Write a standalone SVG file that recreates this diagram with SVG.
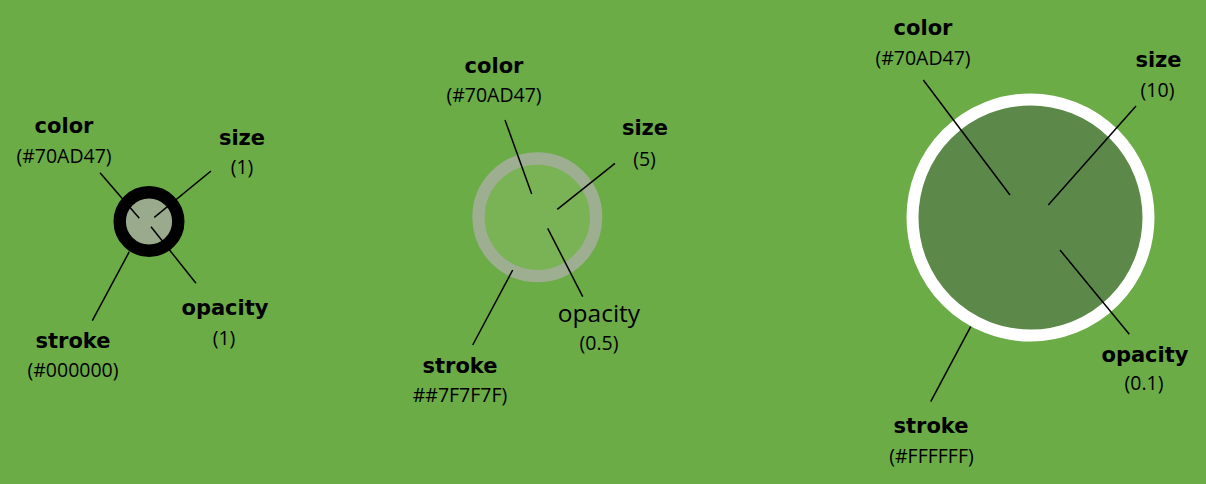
<svg xmlns="http://www.w3.org/2000/svg" width="1206" height="484" viewBox="0 0 1206 484">
<style>
.t{font-family:"DejaVu Sans",Verdana,sans-serif;font-weight:bold;font-size:21px;fill:#000;text-anchor:middle}
.v{font-family:"Open Sans","DejaVu Sans",sans-serif;font-size:19.5px;fill:#000;text-anchor:middle}
.tr{font-family:"Open Sans","DejaVu Sans",sans-serif;font-size:24.5px;fill:#000;text-anchor:middle}
.ln{stroke:#000;stroke-width:1.5;fill:none}
</style>
<rect width="1206" height="484" fill="#6BAC47"/>
<g id="node-size1">
<circle cx="149" cy="221.5" r="29.3" fill="#9AAA8C" stroke="#000" stroke-width="12.4"/>
<text class="t" x="64" y="133">color</text>
<text class="v" x="64" y="163">(#70AD47)</text>
<text class="t" x="242" y="145">size</text>
<text class="v" x="242" y="174">(1)</text>
<text class="t" x="225" y="315">opacity</text>
<text class="v" x="224" y="345">(1)</text>
<text class="t" x="73" y="348">stroke</text>
<text class="v" x="73" y="377">(#000000)</text>
</g>
<g id="node-size5">
<circle cx="537.3" cy="217.3" r="58.8" fill="#7AB256" stroke="#9EAE90" stroke-width="12.4"/>
<text class="t" x="494" y="73">color</text>
<text class="v" x="494" y="102">(#70AD47)</text>
<text class="t" x="645" y="135">size</text>
<text class="v" x="644.5" y="166">(5)</text>
<text class="tr" x="599" y="322">opacity</text>
<text class="v" x="599" y="350">(0.5)</text>
<text class="t" x="460" y="373">stroke</text>
<text class="v" x="460" y="402">##7F7F7F)</text>
</g>
<g id="node-size10">
<circle cx="1030.5" cy="217.5" r="118" fill="#5C8849" stroke="#FFFFFF" stroke-width="12"/>
<text class="t" x="923" y="35">color</text>
<text class="v" x="923" y="65">(#70AD47)</text>
<text class="t" x="1158.5" y="67">size</text>
<text class="v" x="1157.5" y="97">(10)</text>
<text class="t" x="1145" y="362">opacity</text>
<text class="v" x="1144" y="390">(0.1)</text>
<text class="t" x="931" y="433">stroke</text>
<text class="v" x="931.5" y="463">(#FFFFFF)</text>
</g>
<g id="connectors">
<line class="ln" x1="100" y1="172.7" x2="139.3" y2="218.3"/>
<line class="ln" x1="211" y1="171" x2="154.3" y2="217.3"/>
<line class="ln" x1="151" y1="226.7" x2="196" y2="283.3"/>
<line class="ln" x1="129.3" y1="251.7" x2="92.3" y2="320.7"/>
<line class="ln" x1="505" y1="120" x2="531.7" y2="194"/>
<line class="ln" x1="615" y1="163.3" x2="557.3" y2="209.3"/>
<line class="ln" x1="547.7" y1="228.3" x2="582.7" y2="296.7"/>
<line class="ln" x1="512.7" y1="270" x2="472.7" y2="345"/>
<line class="ln" x1="923.3" y1="80" x2="1010" y2="195"/>
<line class="ln" x1="1136" y1="106" x2="1048.3" y2="205"/>
<line class="ln" x1="1060" y1="250" x2="1129.3" y2="334.3"/>
<line class="ln" x1="970.7" y1="326.7" x2="930.7" y2="401.7"/>
</g>
</svg>
